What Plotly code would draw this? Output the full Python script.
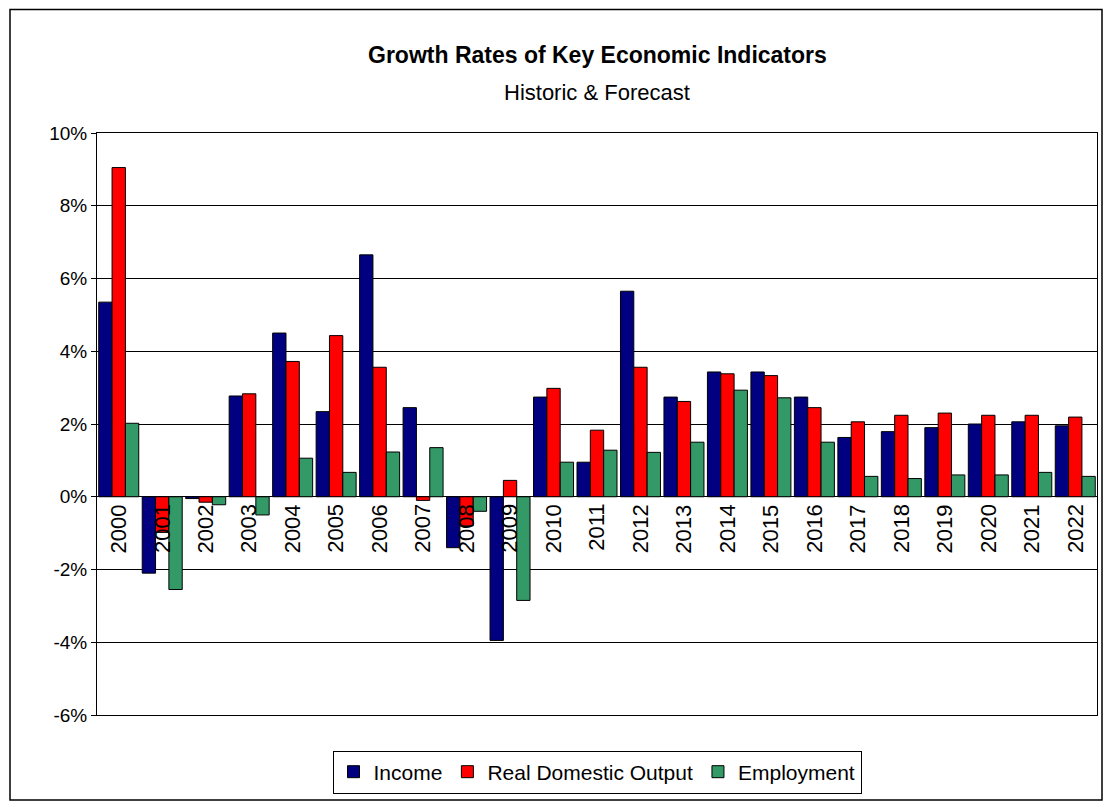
import plotly.graph_objects as go

years = [str(y) for y in range(2000, 2023)]
income = [5.35, -2.1, -0.05, 2.77, 4.5, 2.34, 6.65, 2.45, -1.4, -3.95, 2.74,
          0.95, 5.65, 2.74, 3.43, 3.43, 2.74, 1.63, 1.79, 1.9, 2.0, 2.06, 1.95]
output = [9.05, -0.98, -0.15, 2.83, 3.72, 4.43, 3.56, -0.1, -0.8, 0.45, 2.98,
          1.83, 3.56, 2.62, 3.38, 3.33, 2.45, 2.06, 2.24, 2.3, 2.24, 2.24, 2.19]
employment = [2.02, -2.55, -0.22, -0.5, 1.06, 0.67, 1.23, 1.35, -0.4, -2.85, 0.95,
              1.28, 1.22, 1.5, 2.93, 2.72, 1.5, 0.56, 0.5, 0.6, 0.6, 0.67, 0.56]
y_ticks = [-6, -4, -2, 0, 2, 4, 6, 8, 10]
y_labels = [f"{v}%" for v in y_ticks]

FONT = "Liberation Sans, Arial, sans-serif"

fig = go.Figure()
for name, vals, color in [("Income", income, "#000080"),
                          ("Real Domestic Output", output, "#FF0000"),
                          ("Employment", employment, "#339966")]:
    fig.add_trace(go.Bar(x=years, y=vals, name=name, marker_color=color,
                         marker_line=dict(color="black", width=1)))

# year labels sit just under the zero line, rotated (x by category index)
for i, y in enumerate(years):
    fig.add_annotation(x=i, y=-0.15, text=y, textangle=-90, showarrow=False,
                       yanchor="top", font=dict(size=22, color="black", family=FONT))

fig.add_annotation(x=0.5, y=1.16, xref="paper", yref="paper", showarrow=False,
                   text="<b>Growth Rates of Key Economic Indicators</b>",
                   font=dict(size=23, color="black", family=FONT))
fig.add_annotation(x=0.5, y=1.095, xref="paper", yref="paper", showarrow=False,
                   text="Historic & Forecast", font=dict(size=22, color="black", family=FONT))

# outer chart border
fig.add_shape(type="rect", xref="paper", yref="paper", x0=-0.087, x1=1.005, y0=-0.146, y1=1.212,
              line=dict(color="black", width=1.5))

fig.update_layout(
    width=1096, height=794,
    margin=dict(l=89, r=7, t=125, b=87),
    plot_bgcolor="white", paper_bgcolor="white",
    barmode="group", bargap=0.08, bargroupgap=0,
    font=dict(family=FONT, size=19, color="black"),
    showlegend=True,
    legend=dict(orientation="h", x=0.5, xanchor="center", y=-0.098, yanchor="middle",
                bordercolor="black", borderwidth=1, font=dict(size=21),
                itemwidth=30, tracegroupgap=0),
    xaxis=dict(type="category", showticklabels=False, showgrid=False, zeroline=False,
               showline=True, linecolor="black", mirror=True),
    yaxis=dict(range=[-6, 10], tickvals=y_ticks, ticktext=y_labels,
               showgrid=True, gridcolor="black", gridwidth=1,
               zeroline=True, zerolinecolor="black", zerolinewidth=1,
               showline=True, linecolor="black", mirror=True,
               ticks="outside", ticklen=5, tickcolor="black"),
)

fig.write_html("out.html")
